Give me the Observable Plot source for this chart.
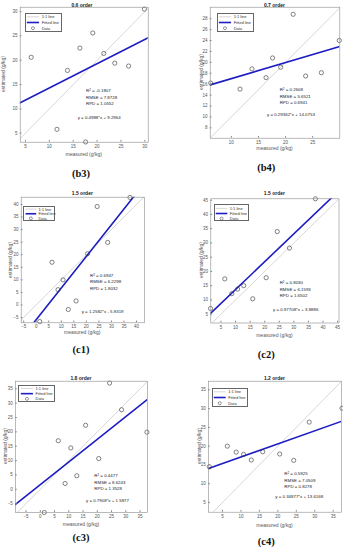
<!DOCTYPE html>
<html><head><meta charset="utf-8">
<script src="https://cdn.jsdelivr.net/npm/d3@7"></script>
<script src="https://cdn.jsdelivr.net/npm/@observablehq/plot@0.6"></script>
<style>
body{margin:0;background:#fff;}
#root{position:relative;width:343px;height:550px;overflow:hidden;background:#fff;font-family:"Liberation Sans",Arial,sans-serif;color:#333;}
.abs{position:absolute;white-space:nowrap;line-height:1;}
.cell{position:absolute;}
.cap{font-family:"Liberation Serif","Times New Roman",serif;font-weight:bold;font-size:10.5px;color:#111;}
.ttl{font-weight:bold;font-size:5px;color:#222;}
.lab{font-size:5px;color:#555;}
.st{font-size:4.4px;color:#222;}
.leg{position:absolute;background:#fff;border:0.6px solid #666;box-sizing:border-box;}
</style></head><body><div id="root"></div>
<script>
// ---------- data ----------
const panelIds = ["b3", "b4", "c1", "c2", "c3", "c4"];
const titles = ["0.6 order", "0.7 order", "1.5 order", "1.5 order", "1.8 order", "1.2 order"];
const bMeasured = [6.2, 11.6, 13.8, 16.4, 17.6, 19.1, 21.4, 23.7, 26.6, 29.9];
const cMeasured = [1.4, 6.3, 8.7, 10.7, 12.8, 15.9, 20.5, 24.3, 28.5, 37.4];
const b3Estimated = [20.6, 5.8, 17.9, 22.5, 3.2, 25.6, 21.4, 19.4, 18.8, 30.5];
const b4Estimated = [16.2, 15.1, 18.8, 17.2, 20.8, 19.1, 28.8, 17.5, 18.1, 24.0];
const c1Estimated = [-6.6, 17.0, 6.1, 10.0, -1.8, 1.6, 20.4, 39.2, 24.9, 42.8];
const c2Estimated = [7.0, 17.4, 12.2, 13.8, 15.0, 10.4, 17.8, 34.0, 28.2, 45.5];
const c3Estimated = [-8.1, 16.9, 2.0, 14.4, 4.7, 22.3, 10.7, 37.0, 27.7, 19.9];
const c4Estimated = [14.5, 20.0, 18.4, 17.8, 16.3, 18.5, 17.9, 16.2, 26.4, 30.1];
const slopes = [0.4988, 0.29362, 1.2582, 0.97708, 0.7908, 0.34877];
const intercepts = [9.2964, 14.0753, -5.8319, 3.8886, 1.5877, 13.6168];
const r2Labels = ["-0.1807", "0.2608", "0.6947", "0.8030", "0.4477", "0.5925"];
const rmseLabels = ["7.8728", "5.6521", "6.2298", "6.1593", "8.6243", "7.0509"];
const rpdLabels = ["1.0552", "0.6941", "1.8032", "1.6502", "1.3528", "0.8278"];
const eqLabels = ["y = 0.4988*x + 9.2964", "y = 0.29362*x + 14.0753", "y = 1.2582*x - 5.8319",
                  "y = 0.97708*x + 3.8886", "y = 0.7908*x + 1.5877", "y = 0.34877*x + 13.6168"];
const xDomains = [[3.9, 30.7], [6.1, 30.0], [-6.0, 43.2], [1.5, 45.5], [-8.7, 37.6], [1.2, 37.25]];
const yDomains = [[3.15, 30.9], [6.1, 30.1], [-7.1, 42.9], [1.9, 45.5], [-8.1, 37.65], [2.4, 37.3]];
const xTicks = [[5, 10, 15, 20, 25, 30], [10, 15, 20, 25], [-5, 0, 5, 10, 15, 20, 25, 30, 35, 40],
                [5, 10, 15, 20, 25, 30, 35, 40, 45], [-5, 0, 5, 10, 15, 20, 25, 30, 35], [5, 10, 15, 20, 25, 30, 35]];
const yTicks = [[5, 10, 15, 20, 25, 30], [8, 10, 12, 14, 16, 18, 20, 22, 24, 26, 28], [-5, 0, 5, 10, 15, 20, 25, 30, 35, 40],
                [5, 10, 15, 20, 25, 30, 35, 40, 45], [-5, 0, 5, 10, 15, 20, 25, 30, 35], [5, 10, 15, 20, 25, 30, 35]];
const legendLabels = ["1:1 line", "Fitted line", "Data"];
const estimated = [b3Estimated, b4Estimated, c1Estimated, c2Estimated, c3Estimated, c4Estimated];

// ---------- layout (pixels) ----------
const layout = [
  {cell:[0,0,172,185],   frame:[19.7,147.7,6.7,141.7], title:[82,4.5],    stats:[86,91,6.6],   eq:[77.7,118],  leg:[25,13,37,19],    xl:[83.7,153.8],  yl:[3.2,74],   cap:[81,174]},
  {cell:[172,0,171,185], frame:[209.7,339.3,6.7,137.7], title:[274.5,4.5], stats:[279.7,90,6.6], eq:[267,115],   leg:[217,13,37,19],   xl:[274.5,148], yl:[201,72],   cap:[266.3,168.3]},
  {cell:[0,185,172,180], frame:[20.7,144,196.7,322.3],  title:[82.3,193.3],stats:[90,275.7,6.6], eq:[81.7,312],  leg:[23.3,205.7,32,15.5], xl:[82.3,332.3], yl:[10,259.5], cap:[81,350]},
  {cell:[172,185,171,180],frame:[210.3,338.5,198.3,322.5],title:[274.4,193.3],stats:[279.7,283.3,6.4],eq:[273,310], leg:[213.7,204.3,35,17], xl:[274.4,334.5], yl:[201.3,260], cap:[266.3,355]},
  {cell:[0,365,172,185], frame:[15,147,380.7,512],      title:[81,377.7],  stats:[94.3,476,6.6], eq:[86,501],    leg:[18.3,385,36.7,17.3], xl:[81,523.8], yl:[5,446], cap:[81,538.3]},
  {cell:[172,365,171,185],frame:[208,341,380.7,511.7],  title:[274.5,377.7],stats:[284.3,474,6.6],eq:[275.3,497.3],leg:[212,387.7,36,19], xl:[274.5,525], yl:[198.7,446], cap:[266.3,541.7]}
];

const root = document.getElementById("root");
function place(html, x, y, cls, tf) {
  const d = document.createElement("div");
  d.className = "abs " + cls;
  d.innerHTML = html;
  d.style.left = x + "px";
  d.style.top = y + "px";
  d.style.transform = tf;
  root.appendChild(d);
  return d;
}

panelIds.forEach((id, i) => {
  const L = layout[i];
  const [cl, ct, cw, ch] = L.cell;
  const [fx0, fx1, fy0, fy1] = L.frame;
  const meas = i < 2 ? bMeasured : cMeasured;
  const pts = meas.map((m, j) => ({m, e: estimated[i][j]}));
  const [x0, x1] = xDomains[i];
  const [y0, y1] = yDomains[i];
  const lo = Math.min(x0, y0), hi = Math.max(x1, y1);
  const oneToOne = [{x: lo, y: lo}, {x: hi, y: hi}];
  const fit = [x0, x1].map(x => ({x, y: slopes[i] * x + intercepts[i]}));

  const plot = Plot.plot({
    width: cw, height: ch,
    marginLeft: fx0 - cl, marginRight: cl + cw - fx1,
    marginTop: fy0 - ct, marginBottom: ct + ch - fy1,
    style: {background: "transparent", fontFamily: "Liberation Sans, Arial, sans-serif", fontSize: "4.5px", overflow: "visible"},
    x: {domain: xDomains[i]},
    y: {domain: yDomains[i]},
    marks: [
      Plot.line(oneToOne, {x: "x", y: "y", stroke: "#c6c6c6", strokeWidth: 0.7, clip: true}),
      Plot.line(fit, {x: "x", y: "y", stroke: "#1d1dc4", strokeWidth: 1.6, clip: true}),
      Plot.dot(pts, {x: "m", y: "e", r: 2.1, stroke: "#333", strokeWidth: 0.6, fill: "none"}),
      Plot.frame({stroke: "#8a8a8a", strokeWidth: 0.6}),
      Plot.axisX(xTicks[i], {tickSize: -1.8, tickPadding: 4.2, fontSize: 4.5, fill: "#555", stroke: "#8a8a8a", label: null}),
      Plot.axisY(yTicks[i], {tickSize: -1.8, tickPadding: 4.5, fontSize: 4.5, fill: "#555", stroke: "#8a8a8a", label: null})
    ]
  });
  const cell = document.createElement("div");
  cell.className = "cell";
  cell.style.left = cl + "px"; cell.style.top = ct + "px";
  cell.appendChild(plot);
  root.appendChild(cell);

  place(titles[i], L.title[0], L.title[1], "ttl", "translate(-50%,-50%)");
  place("measured (g/kg)", L.xl[0], L.xl[1], "lab", "translate(-50%,-50%)");
  place("estimated (g/kg)", L.yl[0], L.yl[1], "lab", "translate(-50%,-50%) rotate(-90deg)");
  place("(" + id + ")", L.cap[0], L.cap[1], "cap", "translate(-50%,-50%)");

  const [sx, sy, sd] = L.stats;
  place("R<sup style='font-size:3px;vertical-align:1.6px'>2</sup> = " + (r2Labels[i].startsWith("-") ? "" : " ") + r2Labels[i], sx, sy, "st", "translateY(-50%)");
  place("RMSE = " + rmseLabels[i], sx, sy + sd, "st", "translateY(-50%)");
  place("RPD  = " + rpdLabels[i], sx, sy + 2 * sd, "st", "translateY(-50%)");
  place(eqLabels[i], L.eq[0], L.eq[1], "st", "translateY(-50%)");

  const [lx, ly, lw, lh] = L.leg;
  const box = document.createElement("div");
  box.className = "leg";
  box.style.left = lx + "px"; box.style.top = ly + "px";
  box.style.width = lw + "px"; box.style.height = lh + "px";
  const svg = d3.select(box).append("svg").attr("width", lw).attr("height", lh)
    .style("position", "absolute").style("left", "-0.6px").style("top", "-0.6px");
  const rows = [0.2, 0.5, 0.8].map(f => f * lh);
  const sx0 = lw * 0.05, sx1 = lw * 0.38;
  svg.append("line").attr("x1", sx0).attr("x2", sx1).attr("y1", rows[0]).attr("y2", rows[0]).attr("stroke", "#c6c6c6").attr("stroke-width", 0.7);
  svg.append("line").attr("x1", sx0).attr("x2", sx1).attr("y1", rows[1]).attr("y2", rows[1]).attr("stroke", "#1d1dc4").attr("stroke-width", 1.6);
  svg.append("circle").attr("cx", (sx0 + sx1) / 2).attr("cy", rows[2]).attr("r", 1.5).attr("fill", "none").attr("stroke", "#333").attr("stroke-width", 0.5);
  legendLabels.forEach((t, k) => {
    svg.append("text").attr("x", lw * 0.45).attr("y", rows[k]).attr("dy", "0.35em")
      .attr("font-size", 4).attr("fill", "#333").attr("font-family", "Liberation Sans, Arial, sans-serif").text(t);
  });
  root.appendChild(box);
});
</script>
</body></html>
